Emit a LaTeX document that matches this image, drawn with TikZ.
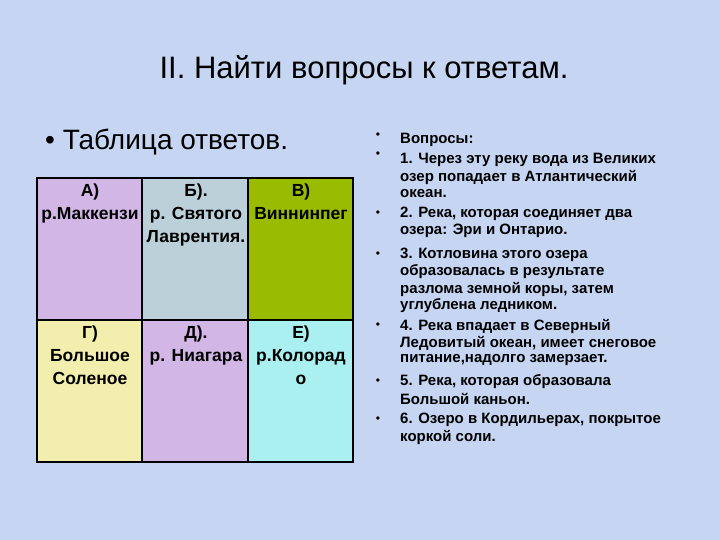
\documentclass[tikz,border=0pt]{standalone}
\usepackage{fontspec}
\setmainfont{Liberation Sans}
\begin{document}
\begin{tikzpicture}[x=1pt,y=-1pt,
 cell/.style={draw=black,line width=1.2pt},
 ct/.style={font=\bfseries\fontsize{17.5}{23}\selectfont,align=center,anchor=north,inner sep=0pt},
 q/.style={font=\bfseries\fontsize{15}{17}\selectfont,anchor=west,inner sep=0pt},
 bul/.style={font=\fontsize{12}{14}\selectfont,inner sep=0pt}]
\definecolor{bg}{HTML}{C6D6F2}
\fill[bg] (0,0) rectangle (720,540);
\useasboundingbox (0,0) rectangle (720,540);
\node[font=\fontsize{31}{36}\selectfont,inner sep=0pt] (title) at (364,70) {II. Найти вопросы к ответам.};
\node[font=\fontsize{28}{32}\selectfont,anchor=west,inner sep=0pt] (tab) at (45,142) {• Таблица ответов.};
\definecolor{lil}{HTML}{D2B6E6}
\definecolor{gb}{HTML}{BCD0DA}
\definecolor{gr}{HTML}{99BB00}
\definecolor{yl}{HTML}{F2EEAE}
\definecolor{cy}{HTML}{AAF0F0}
\fill[lil] (37,178) rectangle (142,320);
\fill[gb] (142,178) rectangle (248,320);
\fill[gr] (248,178) rectangle (353,320);
\fill[yl] (37,320) rectangle (142,462);
\fill[lil] (142,320) rectangle (248,462);
\fill[cy] (248,320) rectangle (353,462);
\draw[cell] (37,178) rectangle (353,462);
\draw[cell] (142,178) -- (142,462) (248,178) -- (248,462) (37,320) -- (353,320);
\node[ct] (a) at (90,184) {А)\\р.Маккензи};
\node[ct] (b) at (196,184) {Б).\\р. Святого\\Лаврентия.};
\node[ct] (c) at (301,184) {В)\\Виннинпег};
\node[ct] (d) at (90,326) {Г)\\Большое\\Соленое};
\node[ct] (e) at (196,326) {Д).\\р. Ниагара};
\node[ct] (f) at (301,326) {Е)\\р.Колорад\\о};
\foreach \y in {136,155,214,255,326,382,420} \node[bul] at (378,\y) {•};
\foreach \t/\y in {{Вопросы:}/140,{1. Через эту реку вода из Великих}/160,{озер попадает в Атлантический}/177,{океан.}/194,
{2. Река, которая соединяет два}/214,{озера: Эри и Онтарио.}/231,
{3. Котловина этого озера}/255,{образовалась в результате}/272,{разлома земной коры, затем}/289,{углублена ледником.}/306,
{4. Река впадает в Северный}/326,{Ледовитый океан, имеет снеговое}/343,{питание,надолго замерзает.}/360,
{5. Река, которая образовала}/382,{Большой каньон.}/399,
{6. Озеро в Кордильерах, покрытое}/420,{коркой соли.}/437}
 \node[q] at (400,\y) {\t};
\end{tikzpicture}
\end{document}
